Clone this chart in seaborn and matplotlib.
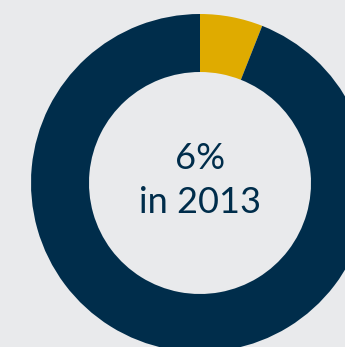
import matplotlib
matplotlib.use("Agg")
import matplotlib.pyplot as plt
import seaborn as sns

BG = "#e9eaec"
NAVY = "#002d4b"
GOLD = "#dfab00"

labels = ["share", "rest"]
values = [6, 94]
colors = [GOLD, NAVY]
center_lines = ["6%", "in 2013"]

sns.set_style("white", {"axes.facecolor": BG, "figure.facecolor": BG})
plt.rcParams["font.family"] = ["Lato", "DejaVu Sans"]

fig = plt.figure(figsize=(3.45, 3.47), dpi=100)
ax = fig.add_axes([0, 0, 1, 1])

cx, cy = 200, 347 - 183
ax.pie(values, colors=colors, startangle=90, counterclock=False,
       center=(cx, cy), radius=169, frame=True,
       wedgeprops=dict(width=58, linewidth=0))
ax.set_xlim(0, 345)
ax.set_ylim(0, 347)
ax.set_aspect("equal")
ax.axis("off")

ax.text(cx, 347 - 158, center_lines[0], ha="center", va="center",
        fontsize=26, color=NAVY, fontweight="normal")
ax.text(cx, 347 - 202, center_lines[1], ha="center", va="center",
        fontsize=26, color=NAVY, fontweight="normal")

fig.savefig("out.png", dpi=100, facecolor=BG)
